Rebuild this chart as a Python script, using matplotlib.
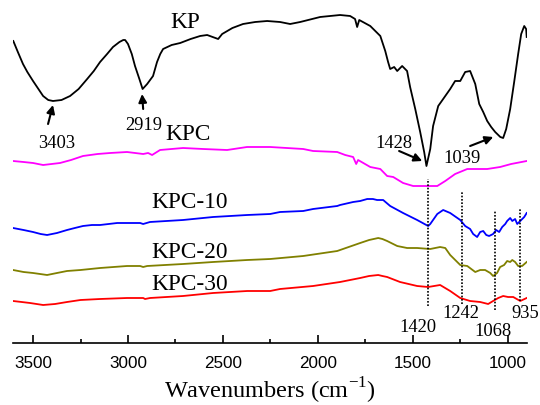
import matplotlib
matplotlib.use("Agg")
import matplotlib.pyplot as plt
from matplotlib.ticker import MultipleLocator

plt.rcParams['mathtext.fontset'] = 'custom'
plt.rcParams['mathtext.rm'] = 'Liberation Serif'

# FTIR spectra, wavenumber (cm-1) vs. offset transmittance (arb. units)
kp_wn = [3604, 3580, 3553, 3530, 3500, 3447, 3420, 3395, 3350, 3305, 3260, 3215,
         3180, 3147, 3110, 3079, 3045, 3025, 3015, 3000, 2980, 2963, 2940, 2923,
         2899, 2868, 2847, 2830, 2815, 2770, 2725, 2670, 2620, 2583, 2525, 2504,
         2450, 2394, 2330, 2267, 2199, 2146, 2093, 1988, 1883, 1830, 1804, 1793,
         1782, 1724, 1671, 1645, 1630, 1619, 1598, 1582, 1556, 1530, 1514, 1487,
         1461, 1440, 1428, 1408, 1393, 1366, 1340, 1303, 1277, 1250, 1224, 1198,
         1171, 1150, 1129, 1108, 1087, 1066, 1039, 1024, 1008, 987, 966, 945,
         929, 913, 903, 900]
kp_t = [364, 353, 341, 333, 324, 309, 305, 304, 305, 309, 316, 326,
        334, 343, 351, 358, 363, 365, 365, 361, 351, 339, 326, 316,
        321, 329, 343, 351, 356, 360, 362, 366, 369, 370, 366, 371,
        377, 381, 383, 384, 383, 381, 383, 388, 390, 389, 386, 378,
        385, 379, 369, 354, 343, 336, 338, 334, 339, 334, 318, 296,
        273, 253, 239, 256, 279, 299, 306, 316, 324, 324, 333, 334,
        321, 301, 293, 284, 278, 273, 268, 267, 276, 296, 323, 351,
        371, 379, 376, 368]

kpc_wn = [3605, 3550, 3500, 3447, 3358, 3300, 3237, 3160, 3094, 3005, 2920, 2894,
          2873, 2831, 2710, 2604, 2478, 2373, 2251, 2077, 2025, 1898, 1856, 1814,
          1798, 1788, 1724, 1671, 1635, 1603, 1551, 1498, 1450, 1371, 1329, 1277,
          1213, 1108, 1040, 982, 900]
kpc_t = [244, 243, 242, 240, 242, 245, 249, 251, 252, 253, 251, 252,
         250, 255, 257, 256, 255, 258, 258, 256, 254, 253, 250, 248,
         241, 245, 238, 236, 229, 228, 222, 219, 219, 219, 224, 231,
         236, 236, 238, 241, 244]

kpc10_wn = [3605, 3550, 3500, 3460, 3426, 3374, 3321, 3280, 3237, 3190, 3147, 3057,
            3005, 2936, 2920, 2884, 2710, 2552, 2372, 2251, 2199, 2077, 2025, 1898,
            1883, 1814, 1777, 1740, 1710, 1688, 1656, 1619, 1551, 1477, 1419, 1408,
            1371, 1340, 1303, 1250, 1224, 1198, 1182, 1161, 1145, 1129, 1113, 1098,
            1077, 1061, 1045, 1029, 1013, 1003, 987, 976, 961, 950, 934, 913, 900]
kpc10_t = [177, 175, 173, 171, 170, 172, 175, 177, 179, 180, 180, 182,
           182, 182, 181, 183, 185, 188, 190, 191, 193, 194, 196, 199,
           200, 203, 204, 206, 206, 205, 205, 199, 192, 185, 179, 181,
           191, 195, 192, 185, 179, 176, 171, 168, 173, 174, 170, 169,
           171, 175, 173, 178, 181, 184, 187, 184, 186, 181, 184, 188, 192]

kpc20_wn = [3605, 3550, 3500, 3426, 3374, 3321, 3250, 3147, 3005, 2936, 2920, 2899,
            2710, 2552, 2372, 2251, 2077, 1898, 1777, 1730, 1682, 1660, 1635, 1582,
            1530, 1477, 1408, 1356, 1329, 1303, 1250, 1213, 1171, 1145, 1119, 1092,
            1077, 1056, 1040, 1019, 1003, 987, 976, 961, 945, 924, 900]
kpc20_t = [135, 133, 132, 130, 132, 134, 135, 137, 139, 139, 138, 139,
           141, 143, 145, 146, 149, 154, 162, 165, 167, 166, 164, 159,
           157, 157, 156, 158, 157, 150, 140, 139, 133, 135, 135, 132,
           129, 132, 138, 140, 144, 143, 145, 143, 139, 139, 143]

kpc30_wn = [3605, 3560, 3516, 3447, 3384, 3321, 3250, 3147, 3005, 2920, 2910, 2884,
            2710, 2552, 2372, 2251, 2199, 2025, 1883, 1777, 1730, 1682, 1660, 1635,
            1567, 1477, 1419, 1356, 1303, 1250, 1198, 1145, 1103, 1077, 1050, 1024,
            998, 971, 934, 900]
kpc30_t = [104, 103, 102, 100, 101, 103, 105, 106, 107, 107, 106, 107,
           109, 112, 114, 114, 116, 119, 123, 127, 129, 130, 129, 128,
           123, 119, 118, 120, 114, 107, 104, 103, 101, 104, 107, 109,
           108, 108, 104, 107]

marked_wn = [1420, 1242, 1068, 935]

fig = plt.figure(figsize=(5.4, 4.06), dpi=100)
ax = fig.add_axes([13.3 / 540, 62.3 / 406, 513.4 / 540, 343.7 / 406])

ax.plot(kp_wn, kp_t, color='black', lw=1.3)
ax.plot(kpc_wn, kpc_t, color='#ff00ff', lw=1.3)
ax.plot(kpc10_wn, kpc10_t, color='#0000ff', lw=1.3)
ax.plot(kpc20_wn, kpc20_t, color='#808000', lw=1.3)
ax.plot(kpc30_wn, kpc30_t, color='#ff0000', lw=1.3)

# dotted guide lines
ax.vlines(marked_wn[0], 99, 226, colors='black', linestyles=(0, (1, 1)), lw=1.2)
ax.vlines(marked_wn[1], 101, 214, colors='black', linestyles=(0, (1, 1)), lw=1.2)
ax.vlines(marked_wn[2], 95, 194, colors='black', linestyles=(0, (1, 1)), lw=1.2)
ax.vlines(marked_wn[3], 104, 196, colors='black', linestyles=(0, (1, 1)), lw=1.2)

serif = 'Liberation Serif'
big = 16.8
small = 13.3
ax.text(2699, 384, 'KP', family=serif, fontsize=big, ha='center', va='center')
ax.text(2683, 272, 'KPC', family=serif, fontsize=big, ha='center', va='center')
ax.text(2673, 203, 'KPC-10', family=serif, fontsize=big, ha='center', va='center')
ax.text(2673, 153, 'KPC-20', family=serif, fontsize=big, ha='center', va='center')
ax.text(2673, 121, 'KPC-30', family=serif, fontsize=big, ha='center', va='center')

ax.text(3374, 263, '3403', family=serif, fontsize=small, ha='center', va='center')
ax.text(2915, 281, '2919', family=serif, fontsize=small, ha='center', va='center')
ax.text(1598, 263, '1428', family=serif, fontsize=small, ha='center', va='center')
ax.text(1240, 247, '1039', family=serif, fontsize=small, ha='center', va='center')
ax.text(1472, 79, '1420', family=serif, fontsize=small, ha='center', va='center')
ax.text(1245, 92, '1242', family=serif, fontsize=small, ha='center', va='center')
ax.text(1076, 74, '1068', family=serif, fontsize=small, ha='center', va='center')
ax.text(908, 92, '935', family=serif, fontsize=small, ha='center', va='center')

arrow = dict(arrowstyle='-|>', color='black', lw=1.5, mutation_scale=12,
             shrinkA=0, shrinkB=0)
ax.annotate('', xy=(3395, 300), xytext=(3421, 281), arrowprops=arrow)
ax.annotate('', xy=(2926, 311), xytext=(2920, 296), arrowprops=arrow)
ax.annotate('', xy=(1450, 244), xytext=(1572, 254), arrowprops=arrow)
ax.annotate('', xy=(1076, 268), xytext=(1198, 259), arrowprops=arrow)

ax.set_xlim(3604, 900)
ax.set_ylim(62.3, 406)
for s in ['left', 'right', 'top']:
    ax.spines[s].set_visible(False)
ax.spines['bottom'].set_linewidth(1.2)
ax.set_yticks([])
ax.xaxis.set_major_locator(MultipleLocator(500))
ax.xaxis.set_minor_locator(MultipleLocator(250))
ax.tick_params(axis='x', which='major', direction='in', length=5.8, width=1.2,
               pad=9, labelsize=12.3)
ax.tick_params(axis='x', which='minor', direction='in', length=2.9, width=1.2)
for lab in ax.get_xticklabels():
    lab.set_family('Liberation Sans')
ax.set_xlabel('Wavenumbers (cm$^{\\mathregular{-1}}$)', family=serif, fontsize=17.5,
              labelpad=3)

fig.savefig('out.png', dpi=100)
